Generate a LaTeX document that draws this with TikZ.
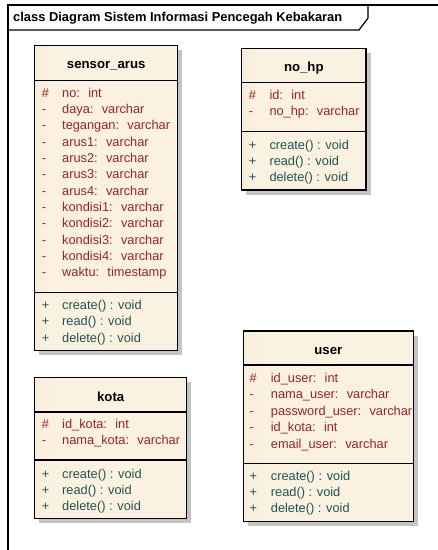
\documentclass[tikz,border=0pt]{standalone}
\usepackage{fontspec}
\setmainfont{Liberation Sans}
\definecolor{attrcol}{HTML}{9A2424}
\definecolor{opercol}{HTML}{1F5454}
\definecolor{fillA}{HTML}{E0D7C6}
\definecolor{fillB}{HTML}{FBF1E1}
\definecolor{shadowcol}{RGB}{196,196,198}
\pgfdeclarehorizontalshading{classfill}{100bp}{color(0bp)=(fillA); color(30bp)=(fillB); color(100bp)=(fillB)}
\tikzset{
  classbox/.style={draw=black, line width=1.1pt, shading=classfill, anchor=north west,
    inner sep=0pt, outer sep=0pt},
  boxshadow/.style={fill=shadowcol, draw=none},
  sepline/.style={line width=1.1pt},
  classtitle/.style={font=\fontsize{13.2}{15}\selectfont\bfseries, inner sep=0pt},
  attrtxt/.style={font=\fontsize{12.8}{15}\selectfont, text=attrcol, anchor=base west, inner sep=0pt},
  opertxt/.style={font=\fontsize{12.8}{15}\selectfont, text=opercol, anchor=base west, inner sep=0pt},
  frameline/.style={line width=1.2pt},
}
\begin{document}
\begin{tikzpicture}[x=1pt,y=-1pt]
\useasboundingbox (0,0) rectangle (438,550);

% diagram frame with its name tab
\coordinate (fbl) at (8,550);
\coordinate (ftl) at (8,5);
\coordinate (ftr) at (438,5);
\coordinate (tab1) at (8,30);
\coordinate (tab2) at (359,30);
\coordinate (tab3) at (368,18);
\coordinate (tab4) at (368,5);
\draw[frameline] (fbl) -- (ftl) -- (ftr);
\draw[frameline] (tab1) -- (tab2) -- (tab3) -- (tab4);
\node[font=\fontsize{12.9}{15}\selectfont\bfseries, anchor=base west, inner sep=0pt] (frametitle) at (13,21.8)
  {class Diagram Sistem Informasi Pencegah Kebakaran};

% grey shadows under the class boxes (offset 4.5 down and right)
\fill[boxshadow] (39.2,50.2) rectangle (182.2,355.2);
\fill[boxshadow] (246.2,52.8) rectangle (370.5,194.5);
\fill[boxshadow] (39.2,381.8) rectangle (191.2,522.8);
\fill[boxshadow] (247.8,335.5) rectangle (417.8,526.2);

% ---------- sensor_arus ----------
\node[classbox, minimum width=143pt, minimum height=305pt] (sensor) at (34.7,45.7) {};
\node[classtitle] (sensor-title) at (106.2,66) {sensor\_arus};
\draw[sepline] (sensor.west |- 0,80.7) -- (sensor.east |- 0,80.7);
\draw[sepline] (sensor.west |- 0,292.3) -- (sensor.east |- 0,292.3);
\foreach \sym/\txt [count=\i] in {\#/no:~ int, -/daya:~ varchar, -/tegangan:~ varchar,
    -/arus1:~ varchar, -/arus2:~ varchar, -/arus3:~ varchar, -/arus4:~ varchar,
    -/kondisi1:~ varchar, -/kondisi2:~ varchar, -/kondisi3:~ varchar, -/kondisi4:~ varchar,
    -/waktu:~ timestamp}{
  \node[attrtxt] (sensor-s\i) at (41.7,{97+16.35*(\i-1)}) {\sym};
  \node[attrtxt] (sensor-a\i) at (62,{97+16.35*(\i-1)}) {\txt};
}
\foreach \txt [count=\i] in {create() : void, read() : void, delete() : void}{
  \node[opertxt] (sensor-p\i) at (41.7,{309.3+16.35*(\i-1)}) {+};
  \node[opertxt] (sensor-o\i) at (62,{309.3+16.35*(\i-1)}) {\txt};
}

% ---------- no_hp ----------
\node[classbox, minimum width=124.3pt, minimum height=141.7pt] (nohp) at (241.7,48.3) {};
\node[classtitle] (nohp-title) at (303.8,68.3) {no\_hp};
\draw[sepline] (nohp.west |- 0,82.7) -- (nohp.east |- 0,82.7);
\draw[sepline] (nohp.west |- 0,131.7) -- (nohp.east |- 0,131.7);
\foreach \sym/\txt [count=\i] in {\#/id:~ int, -/no\_hp:~ varchar}{
  \node[attrtxt] (nohp-s\i) at (248.6,{99.3+16.3*(\i-1)}) {\sym};
  \node[attrtxt] (nohp-a\i) at (269.3,{99.3+16.3*(\i-1)}) {\txt};
}
\foreach \txt [count=\i] in {create() : void, read() : void, delete() : void}{
  \node[opertxt] (nohp-p\i) at (248.6,{149.3+15.85*(\i-1)}) {+};
  \node[opertxt] (nohp-o\i) at (269.3,{149.3+15.85*(\i-1)}) {\txt};
}

% ---------- kota ----------
\node[classbox, minimum width=152pt, minimum height=141pt] (kota) at (34.7,377.3) {};
\node[classtitle] (kota-title) at (110.7,396.7) {kota};
\draw[sepline] (kota.west |- 0,412) -- (kota.east |- 0,412);
\draw[sepline] (kota.west |- 0,460) -- (kota.east |- 0,460);
\foreach \sym/\txt [count=\i] in {\#/id\_kota:~ int, -/nama\_kota:~ varchar}{
  \node[attrtxt] (kota-s\i) at (41.7,{428.3+16.5*(\i-1)}) {\sym};
  \node[attrtxt] (kota-a\i) at (62,{428.3+16.5*(\i-1)}) {\txt};
}
\foreach \txt [count=\i] in {create() : void, read() : void, delete() : void}{
  \node[opertxt] (kota-p\i) at (41.7,{478.3+16*(\i-1)}) {+};
  \node[opertxt] (kota-o\i) at (62,{478.3+16*(\i-1)}) {\txt};
}

% ---------- user ----------
\node[classbox, minimum width=170pt, minimum height=190.7pt] (user) at (243.3,331) {};
\node[classtitle] (user-title) at (328.3,350.7) {user};
\draw[sepline] (user.west |- 0,365) -- (user.east |- 0,365);
\draw[sepline] (user.west |- 0,463.3) -- (user.east |- 0,463.3);
\foreach \sym/\txt [count=\i] in {\#/id\_user:~ int, -/nama\_user:~ varchar,
    -/password\_user:~ varchar, -/id\_kota:~ int, -/email\_user:~ varchar}{
  \node[attrtxt] (user-s\i) at (249.5,{382.6+16.35*(\i-1)}) {\sym};
  \node[attrtxt] (user-a\i) at (270.7,{382.6+16.35*(\i-1)}) {\txt};
}
\foreach \txt [count=\i] in {create() : void, read() : void, delete() : void}{
  \node[opertxt] (user-p\i) at (249.5,{480+16.2*(\i-1)}) {+};
  \node[opertxt] (user-o\i) at (270.7,{480+16.2*(\i-1)}) {\txt};
}
\end{tikzpicture}
\end{document}
